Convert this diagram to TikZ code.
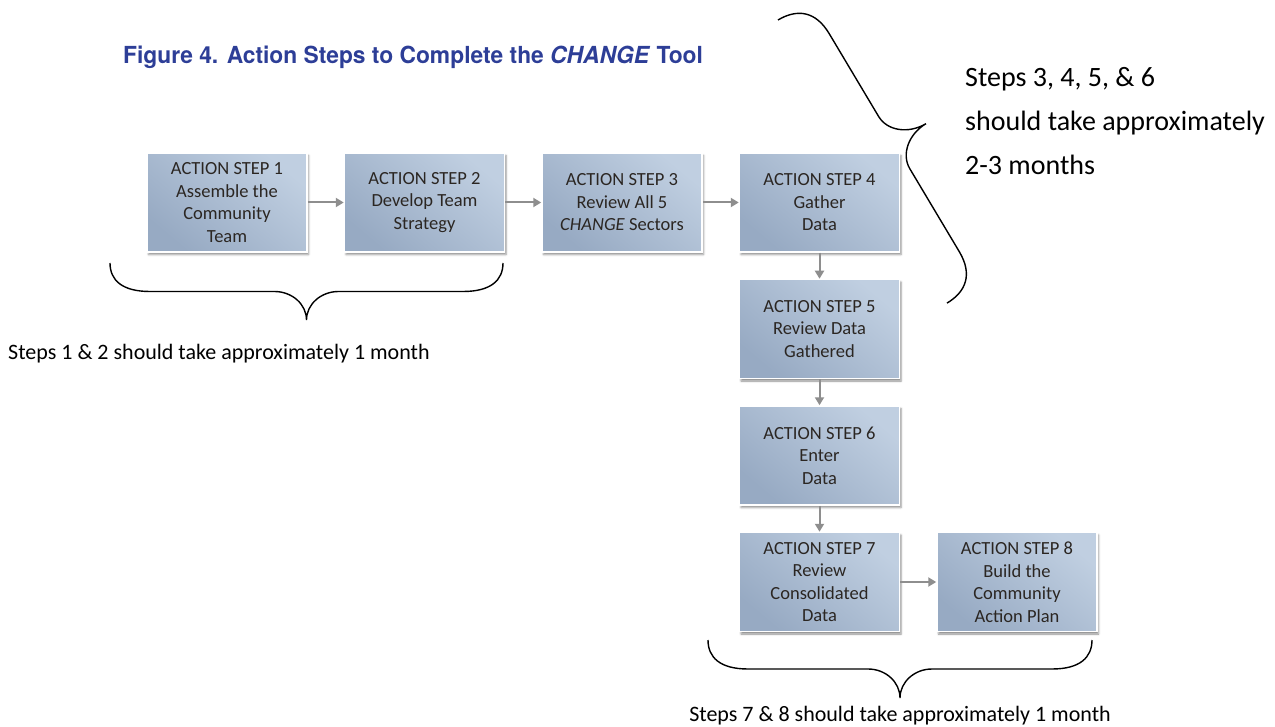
\documentclass[tikz,border=0pt]{standalone}
\usepackage{fontspec}
\setmainfont{Carlito}
\newfontfamily\titlefont[FakeStretch=0.97]{TeX Gyre Heros}
\usetikzlibrary{positioning}
\usetikzlibrary{shadows, shadows.blur}
\usetikzlibrary{arrows.meta}

\definecolor{boxlight}{HTML}{C0CFE1}
\definecolor{boxdark}{HTML}{97AAC3}
\definecolor{boxtext}{HTML}{2B2622}
\definecolor{arrowgray}{HTML}{8E8E8E}
\definecolor{titleblue}{HTML}{2D3E97}

\tikzset{
  stepbox/.style={draw=white, line width=1.5pt, shading=axis,
    top color=boxlight, bottom color=boxdark, shading angle=-40,
    minimum width=160pt, minimum height=99pt, inner sep=2pt,
    align=center, text=boxtext, font=\fontsize{18.5}{22.5}\selectfont,
    blur shadow={shadow xshift=1.5pt, shadow yshift=-2.5pt,
      shadow blur radius=2pt, shadow opacity=45}},
  steparrow/.style={draw=arrowgray, line width=2pt,
    -{Triangle[length=8pt,width=9pt]}},
  bracket/.style={draw=black, line width=1.4pt},
  note/.style={text=black, inner sep=0pt}
}

% curly brace in the local frame: length, half height, curl length
\newcommand{\timebrace}[3]{%
  \draw[bracket] (0,0) .. controls (0,0.6*#2) and (0.3*#3,#2) .. (#3,#2)
    -- ({#1/2-0.8*#3},#2)
    .. controls ({#1/2-0.36*#3},#2) and ({#1/2},1.45*#2) .. ({#1/2},2*#2)
    .. controls ({#1/2},1.45*#2) and ({#1/2+0.36*#3},#2) .. ({#1/2+0.8*#3},#2)
    -- ({#1-#3},#2) .. controls ({#1-0.3*#3},#2) and (#1,0.6*#2) .. (#1,0);
}

\begin{document}
\begin{tikzpicture}[x=1pt,y=-1pt]
  \useasboundingbox (0,0) rectangle (1275,727);

  % title
  \node[note, anchor=base west, text=titleblue,
    font=\titlefont\bfseries\fontsize{23.5}{28}\selectfont] (title) at (123,64)
    {Figure 4. Action Steps to Complete the \textit{CHANGE} Tool};

  % the eight steps
  \node[stepbox] (s1) at (227,202.5) {ACTION STEP 1\\Assemble the\\Community\\Team};
  \node[stepbox, right=36pt of s1] (s2) {ACTION STEP 2\\Develop Team\\Strategy};
  \node[stepbox, right=36pt of s2] (s3) {ACTION STEP 3\\Review All 5\\\textit{CHANGE} Sectors};
  \node[stepbox, right=36pt of s3] (s4) {ACTION STEP 4\\Gather\\Data};
  \node[stepbox, below=26pt of s4] (s5) {ACTION STEP 5\\Review Data\\Gathered};
  \node[stepbox, below=26pt of s5] (s6) {ACTION STEP 6\\Enter\\Data};
  \node[stepbox, below=26pt of s6] (s7) {ACTION STEP 7\\Review\\Consolidated\\Data};
  \node[stepbox, right=36pt of s7] (s8) {ACTION STEP 8\\Build the\\Community\\Action Plan};

  \draw[steparrow] (s1) -- (s2);
  \draw[steparrow] (s2) -- (s3);
  \draw[steparrow] (s3) -- (s4);
  \draw[steparrow] (s4) -- (s5);
  \draw[steparrow] (s5) -- (s6);
  \draw[steparrow] (s6) -- (s7);
  \draw[steparrow] (s7) -- (s8);

  % braces and time notes
  \begin{scope}[shift={(110,263)}]
    \timebrace{393}{28.5}{40}
  \end{scope}
  \node[note, anchor=base west, font=\fontsize{22}{26}\selectfont] (t12) at (8,360)
    {Steps 1 \& 2 should take approximately 1 month};

  \begin{scope}[shift={(778,20)}, x={(0.512pt,-0.858pt)}, y={(0.858pt,0.512pt)}]
    \timebrace{330}{37}{38}
  \end{scope}
  \node[note, anchor=base west, font=\fontsize{28}{34}\selectfont] (t36a) at (965,87)
    {Steps 3, 4, 5, \& 6};
  \node[note, anchor=base west, font=\fontsize{28}{34}\selectfont] (t36b) at (965,131)
    {should take approximately};
  \node[note, anchor=base west, font=\fontsize{28}{34}\selectfont] (t36c) at (965,175)
    {2-3 months};

  \begin{scope}[shift={(708,640)}]
    \timebrace{384}{29}{40}
  \end{scope}
  \node[note, anchor=base, font=\fontsize{22}{26}\selectfont] (t78) at (900,721)
    {Steps 7 \& 8 should take approximately 1 month};
\end{tikzpicture}
\end{document}
